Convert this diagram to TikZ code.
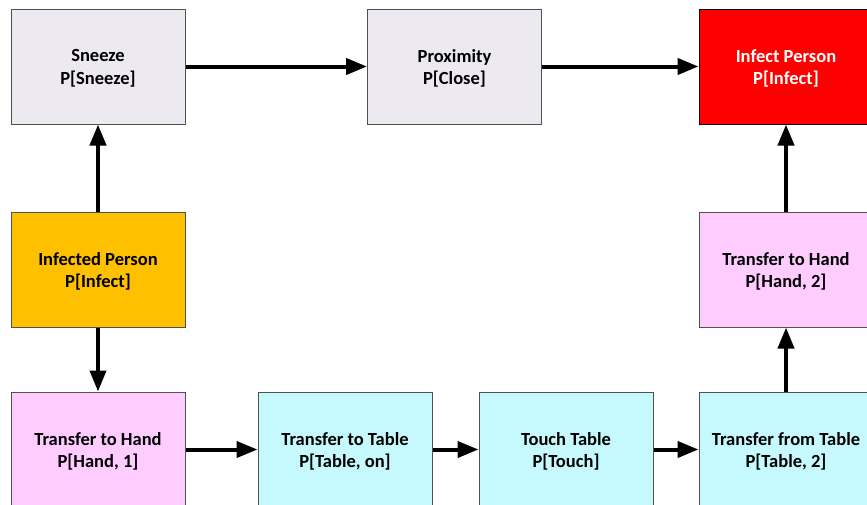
\documentclass[tikz,border=0pt]{standalone}
\usepackage{fontspec}
\setmainfont{Carlito}
\usetikzlibrary{arrows.meta}

\definecolor{lavender}{HTML}{ECE9F1}
\definecolor{amber}{HTML}{FFC000}
\definecolor{hotred}{HTML}{FF0000}
\definecolor{pinkbox}{HTML}{FFCCFF}
\definecolor{cyanbox}{HTML}{C6F9FD}
\definecolor{edge}{HTML}{505050}

\tikzset{
  stage/.style={draw=edge, line width=1pt, minimum width=174pt, minimum height=115pt,
    inner sep=0pt},
  caption/.style={align=center, inner sep=0pt, yshift=-2pt,
    font=\bfseries\fontsize{18.5}{22.5}\selectfont},
  flow/.style={line width=4pt, -{Triangle[length=21pt, width=16pt]}}
}

\begin{document}
\begin{tikzpicture}[x=1pt, y=-1pt]
  \useasboundingbox (0,0) rectangle (867,504);
  \clip (0,0) rectangle (867,504);

  % top row
  \node[stage, fill=lavender, label={[caption]center:Sneeze\\P[Sneeze]}] (sneeze) at (98,66.5) {};
  \node[stage, fill=lavender, label={[caption]center:Proximity\\P[Close]}] (prox) at (454.5,66.5) {};
  \node[stage, fill=hotred, draw=black, label={[caption, text=white]center:Infect Person\\P[Infect]}] (target) at (786,66.5) {};

  % middle row
  \node[stage, fill=amber, label={[caption]center:Infected Person\\P[Infect]}] (source) at (98,269.5) {};
  \node[stage, fill=pinkbox, label={[caption]center:Transfer to Hand\\P[Hand, 2]}] (handtwo) at (786,269.5) {};

  % bottom row
  \node[stage, fill=pinkbox, label={[caption]center:Transfer to Hand\\P[Hand, 1]}] (handone) at (98,449.5) {};
  \node[stage, fill=cyanbox, label={[caption]center:Transfer to Table\\P[Table, on]}] (totable) at (345,449.5) {};
  \node[stage, fill=cyanbox, label={[caption]center:Touch Table\\P[Touch]}] (touch) at (566,449.5) {};
  \node[stage, fill=cyanbox, label={[caption]center:Transfer from Table\\P[Table, 2]}] (fromtable) at (786,449.5) {};

  % connectors
  \draw[flow] (source) -- (sneeze);
  \draw[flow] (sneeze) -- (prox);
  \draw[flow] (prox) -- (target);
  \draw[flow] (source) -- (handone);
  \draw[flow] (handone) -- (totable);
  \draw[flow] (totable) -- (touch);
  \draw[flow] (touch) -- (fromtable);
  \draw[flow] (fromtable) -- (handtwo);
  \draw[flow] (handtwo) -- (target);
\end{tikzpicture}
\end{document}
